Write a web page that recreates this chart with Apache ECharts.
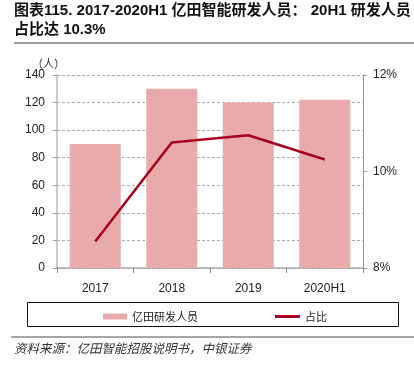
<!DOCTYPE html>
<html><head><meta charset="utf-8">
<script src="https://cdn.jsdelivr.net/npm/echarts@6/dist/echarts.min.js"></script>
<style>html,body{margin:0;padding:0;background:#fff}#c{width:414px;height:376px}</style>
</head><body><div id="c"></div>
<script>
const categories = ['2017', '2018', '2019', '2020H1'];
const staff = [90, 130, 120, 122];
const ratio = [8.55, 10.6, 10.75, 10.25];
const leftTicks = [0, 20, 40, 60, 80, 100, 120, 140];
const rightTicks = ['8%', '10%', '12%'];

const chart = echarts.init(document.getElementById('c'), null, {renderer: 'canvas'});
const fontLatin = '"Liberation Sans", Arial, "Noto Sans CJK SC", sans-serif';
const legendText = {fontFamily: '"Noto Sans CJK SC", sans-serif', fontSize: 11, color: '#222'};
chart.setOption({
  animation: false,
  backgroundColor: '#fff',
  grid: {left: 57, right: 51, top: 75, bottom: 108},
  legend: [{
    left: 98, top: 306, padding: 5,
    itemWidth: 24, itemHeight: 6,
    textStyle: legendText,
    data: [{name: '亿田研发人员', icon: 'rect'}]
  }, {
    left: 270, top: 306, padding: 5,
    itemWidth: 25, itemHeight: 3,
    textStyle: legendText,
    data: [{name: '占比', icon: 'rect'}]
  }],
  xAxis: {
    type: 'category', data: categories,
    axisLine: {lineStyle: {color: '#aaa', width: 1.5}},
    axisTick: {show: true, length: 5, lineStyle: {color: '#888'}},
    axisLabel: {color: '#222', fontSize: 12, fontFamily: fontLatin, margin: 15}
  },
  yAxis: [{
    type: 'value', min: 0, max: 140, interval: 20,
    name: '（人）', nameLocation: 'end', nameGap: 6,
    nameTextStyle: {color: '#333', fontSize: 11, fontFamily: '"Noto Sans CJK SC", sans-serif', align: 'right', padding: [0, -8, 0, 0]},
    axisLine: {show: true, lineStyle: {color: '#ccc', width: 2}},
    axisTick: {show: true, length: 4, lineStyle: {color: '#999'}},
    axisLabel: {color: '#222', fontSize: 12, fontFamily: fontLatin, margin: 12,
      formatter: v => leftTicks.includes(v) ? String(v) : ''},
    splitLine: {show: true, lineStyle: {color: '#aaa', type: [3, 2], width: 1}}
  }, {
    type: 'value', min: 8, max: 12, interval: 2, position: 'right',
    axisLine: {show: true, lineStyle: {color: '#999', width: 1}},
    axisTick: {show: true, length: 4, lineStyle: {color: '#999'}},
    axisLabel: {color: '#222', fontSize: 12, fontFamily: fontLatin, margin: 10,
      formatter: v => rightTicks[(v - 8) / 2]},
    splitLine: {show: false}
  }],
  series: [{
    name: '亿田研发人员', type: 'bar', data: staff, barWidth: 51,
    itemStyle: {color: '#E8AAAA'}
  }, {
    name: '占比', type: 'line', yAxisIndex: 1, data: ratio,
    symbol: 'none', lineStyle: {color: '#A8001E', width: 2.5},
    itemStyle: {color: '#A8001E'}
  }],
  graphic: [
    {type: 'text', left: 14, top: 3, style: {text: '图表115. 2017-2020H1 亿田智能研发人员： 20H1 研发人员', font: 'bold 15px "Liberation Sans", "Noto Sans CJK SC", sans-serif', fill: '#111'}},
    {type: 'text', left: 14, top: 22, style: {text: '占比达 10.3%', font: 'bold 15px "Liberation Sans", "Noto Sans CJK SC", sans-serif', fill: '#111'}},
    {type: 'line', shape: {x1: 14, y1: 43, x2: 414, y2: 43}, style: {stroke: '#777', lineWidth: 1.5}},
    {type: 'rect', shape: {x: 27.5, y: 302.5, width: 371, height: 24}, style: {fill: 'none', stroke: '#111', lineWidth: 1}},
    {type: 'line', shape: {x1: 11, y1: 337, x2: 414, y2: 337}, style: {stroke: '#888', lineWidth: 1.5}},
    {type: 'text', left: 14, top: 342, style: {text: '资料来源：亿田智能招股说明书，中银证券', font: 'italic 12.5px "Noto Sans CJK SC", sans-serif', fill: '#333'}}
  ]
});
</script></body></html>
